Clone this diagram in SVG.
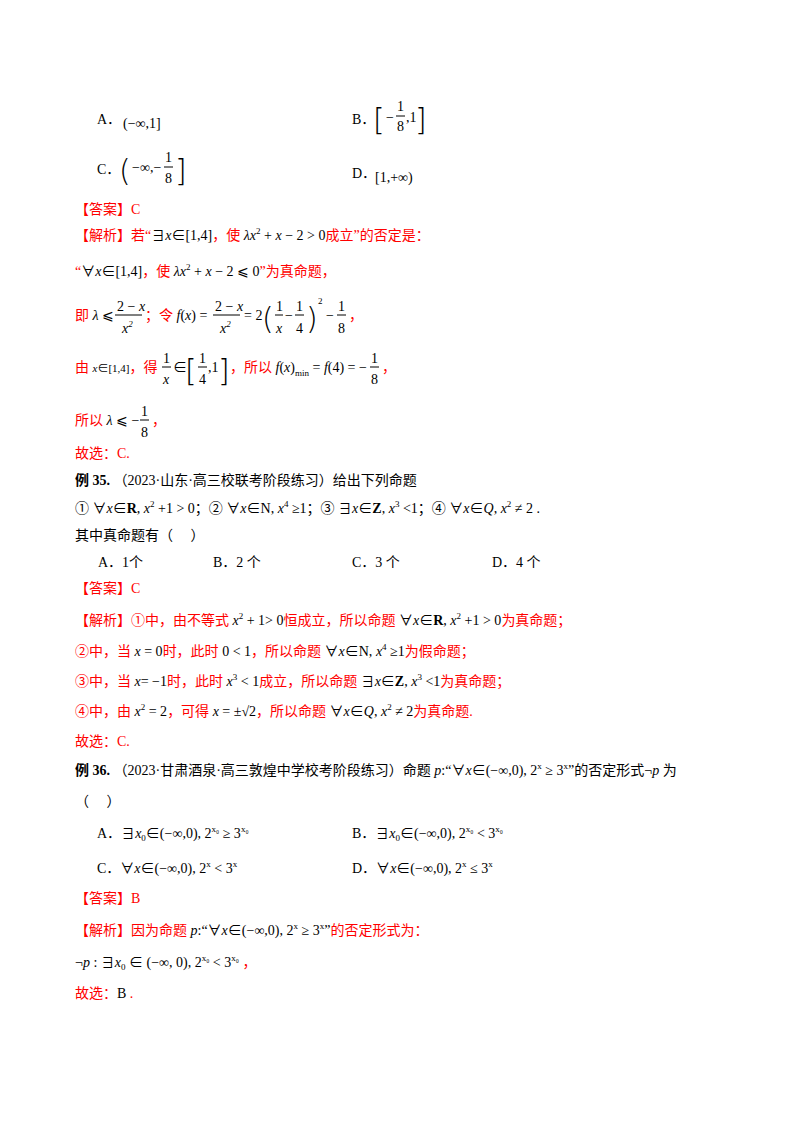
<svg xmlns="http://www.w3.org/2000/svg" width="800" height="1132" viewBox="0 0 800 1132">
<style>
text{font-family:"Liberation Serif","Noto Sans CJK SC",serif;font-size:14px;fill:#000}
.r{fill:#ff0000}
.m{font-style:italic}
.s{font-size:9px}
.b{font-weight:bold}
.br{font-size:30px;font-family:"DejaVu Sans","Liberation Sans",sans-serif;font-weight:200}
line{stroke:#000;stroke-width:1}
</style>
<rect width="800" height="1132" fill="#fff"/>
<g id="q34-options">
<text x="97" y="124">A．</text><text x="123" y="128">(−∞,1]</text>
<text x="352" y="124">B．</text><text x="373" y="130" class="br">[</text><text x="386" y="122">−</text>
<text x="397" y="111">1</text><line x1="396" y1="116" x2="405" y2="116"/><text x="397" y="131">8</text><text x="406" y="122">,1</text><text x="415" y="130" class="br">]</text>
<text x="97" y="174">C．</text><text x="119" y="181" class="br">(</text><text x="132" y="172">−∞,−</text>
<text x="165" y="162">1</text><line x1="164" y1="167" x2="173" y2="167"/><text x="165" y="183">8</text><text x="175" y="181" class="br">]</text>
<text x="352" y="178">D．</text><text x="375" y="182">[1,+∞)</text>
</g>
<g id="q34-answer">
<text x="75" y="214" class="r">【答案】C</text>
<text x="75" y="240" class="r">【解析】若“<tspan fill="#000">∃</tspan><tspan fill="#000" class="m">x</tspan><tspan fill="#000">∈[1,4]</tspan>，使 <tspan fill="#000" class="m">λx</tspan><tspan fill="#000" class="s" dy="-6">2</tspan><tspan fill="#000" dy="6"> + </tspan><tspan fill="#000" class="m">x</tspan><tspan fill="#000"> − 2 &gt; 0</tspan>成立”的否定是：</text>
<text x="75" y="276" class="r">“<tspan fill="#000">∀</tspan><tspan fill="#000" class="m">x</tspan><tspan fill="#000">∈[1,4]</tspan>，使 <tspan fill="#000" class="m">λx</tspan><tspan fill="#000" class="s" dy="-6">2</tspan><tspan fill="#000" dy="6"> + </tspan><tspan fill="#000" class="m">x</tspan><tspan fill="#000"> − 2 ⩽ 0</tspan>”为真命题，</text>
<text x="75" y="320" class="r">即 <tspan fill="#000" class="m">λ</tspan><tspan fill="#000"> ⩽</tspan></text>
<text x="117" y="311">2 − <tspan class="m">x</tspan></text><line x1="115" y1="315" x2="142" y2="315"/><text x="122" y="333" class="m">x<tspan class="s" dy="-6">2</tspan></text>
<text x="145" y="320" class="r">；令 <tspan fill="#000" class="m">f</tspan><tspan fill="#000">(</tspan><tspan fill="#000" class="m">x</tspan><tspan fill="#000">) =</tspan></text>
<text x="215" y="311">2 − <tspan class="m">x</tspan></text><line x1="213" y1="315" x2="240" y2="315"/><text x="220" y="333" class="m">x<tspan class="s" dy="-6">2</tspan></text>
<text x="244" y="320">= 2</text><text x="262" y="329" class="br">(</text>
<text x="276" y="311">1</text><line x1="275" y1="315" x2="283" y2="315"/><text x="276" y="333" class="m">x</text>
<text x="285" y="320">−</text>
<text x="296" y="311">1</text><line x1="295" y1="315" x2="304" y2="315"/><text x="296" y="333">4</text>
<text x="306" y="329" class="br">)</text><text x="318" y="304" class="s">2</text>
<text x="326" y="320">−</text>
<text x="338" y="311">1</text><line x1="337" y1="315" x2="346" y2="315"/><text x="338" y="333">8</text>
<text x="349" y="320" class="r">，</text>
<text x="75" y="372" class="r">由 <tspan fill="#000" class="m" style="font-size:11px">x</tspan><tspan fill="#000" style="font-size:11px">∈[1,4]</tspan>，得</text>
<text x="163" y="363">1</text><line x1="162" y1="367" x2="171" y2="367"/><text x="163" y="384" class="m">x</text>
<text x="173" y="372">∈</text><text x="185" y="381" class="br">[</text>
<text x="199" y="363">1</text><line x1="198" y1="367" x2="207" y2="367"/><text x="199" y="384">4</text>
<text x="208" y="372">,1</text><text x="218" y="381" class="br">]</text>
<text x="230" y="372" class="r">，所以 <tspan fill="#000" class="m">f</tspan><tspan fill="#000">(</tspan><tspan fill="#000" class="m">x</tspan><tspan fill="#000">)</tspan><tspan fill="#000" class="s" dy="4">min</tspan><tspan fill="#000" dy="-4"> = </tspan><tspan fill="#000" class="m">f</tspan><tspan fill="#000">(4) = −</tspan></text>
<text x="371" y="363">1</text><line x1="370" y1="367" x2="379" y2="367"/><text x="371" y="384">8</text>
<text x="382" y="372" class="r">，</text>
<text x="75" y="425" class="r">所以 <tspan fill="#000" class="m">λ</tspan><tspan fill="#000"> ⩽ −</tspan></text>
<text x="141" y="416">1</text><line x1="140" y1="420" x2="149" y2="420"/><text x="141" y="437">8</text>
<text x="152" y="425" class="r">，</text>
<text x="75" y="458" class="r">故选：C.</text>
</g>
<g id="q35">
<text x="75" y="485"><tspan class="b">例 35.</tspan> （2023·山东·高三校联考阶段练习）给出下列命题</text>
<text x="75" y="513">① ∀<tspan class="m">x</tspan>∈<tspan class="b">R</tspan>, <tspan class="m">x</tspan><tspan class="s" dy="-6">2</tspan><tspan dy="6"> +1 &gt; 0</tspan>；② ∀<tspan class="m">x</tspan>∈N, <tspan class="m">x</tspan><tspan class="s" dy="-6">4</tspan><tspan dy="6"> ≥1</tspan>；③ ∃<tspan class="m">x</tspan>∈<tspan class="b">Z</tspan>, <tspan class="m">x</tspan><tspan class="s" dy="-6">3</tspan><tspan dy="6"> &lt;1</tspan>；④ ∀<tspan class="m">x</tspan>∈<tspan class="m">Q</tspan>, <tspan class="m">x</tspan><tspan class="s" dy="-6">2</tspan><tspan dy="6"> ≠ 2 .</tspan></text>
<text x="75" y="540">其中真命题有（　 ）</text>
<text x="98" y="567">A．1个</text><text x="213" y="567">B．2 个</text><text x="352" y="567">C．3 个</text><text x="492" y="567">D．4 个</text>
<text x="75" y="593" class="r">【答案】C</text>
<text x="75" y="625" class="r">【解析】①中，由不等式 <tspan fill="#000" class="m">x</tspan><tspan fill="#000" class="s" dy="-6">2</tspan><tspan fill="#000" dy="6"> + 1&gt; 0</tspan>恒成立，所以命题 <tspan fill="#000">∀</tspan><tspan fill="#000" class="m">x</tspan><tspan fill="#000">∈</tspan><tspan fill="#000" class="b">R</tspan><tspan fill="#000">, </tspan><tspan fill="#000" class="m">x</tspan><tspan fill="#000" class="s" dy="-6">2</tspan><tspan fill="#000" dy="6"> +1 &gt; 0</tspan>为真命题；</text>
<text x="75" y="656" class="r">②中，当 <tspan fill="#000" class="m">x</tspan><tspan fill="#000"> = 0</tspan>时，此时 <tspan fill="#000">0 &lt; 1</tspan>，所以命题 <tspan fill="#000">∀</tspan><tspan fill="#000" class="m">x</tspan><tspan fill="#000">∈N, </tspan><tspan fill="#000" class="m">x</tspan><tspan fill="#000" class="s" dy="-6">4</tspan><tspan fill="#000" dy="6"> ≥1</tspan>为假命题；</text>
<text x="75" y="686" class="r">③中，当 <tspan fill="#000" class="m">x</tspan><tspan fill="#000">= −1</tspan>时，此时 <tspan fill="#000" class="m">x</tspan><tspan fill="#000" class="s" dy="-6">3</tspan><tspan fill="#000" dy="6"> &lt; 1</tspan>成立，所以命题 <tspan fill="#000">∃</tspan><tspan fill="#000" class="m">x</tspan><tspan fill="#000">∈</tspan><tspan fill="#000" class="b">Z</tspan><tspan fill="#000">, </tspan><tspan fill="#000" class="m">x</tspan><tspan fill="#000" class="s" dy="-6">3</tspan><tspan fill="#000" dy="6"> &lt;1</tspan>为真命题；</text>
<text x="75" y="716" class="r">④中，由 <tspan fill="#000" class="m">x</tspan><tspan fill="#000" class="s" dy="-6">2</tspan><tspan fill="#000" dy="6"> = 2</tspan>，可得 <tspan fill="#000" class="m">x</tspan><tspan fill="#000"> = ±√2</tspan>，所以命题 <tspan fill="#000">∀</tspan><tspan fill="#000" class="m">x</tspan><tspan fill="#000">∈</tspan><tspan fill="#000" class="m">Q</tspan><tspan fill="#000">, </tspan><tspan fill="#000" class="m">x</tspan><tspan fill="#000" class="s" dy="-6">2</tspan><tspan fill="#000" dy="6"> ≠ 2</tspan>为真命题.</text>
<text x="75" y="746" class="r">故选：C.</text>
</g>
<g id="q36">
<text x="75" y="775"><tspan class="b">例 36.</tspan> （2023·甘肃酒泉·高三敦煌中学校考阶段练习）命题 <tspan class="m">p</tspan>:“∀<tspan class="m">x</tspan>∈(−∞,0), 2<tspan class="s" dy="-6">x</tspan><tspan dy="6"> ≥ 3</tspan><tspan class="s" dy="-6">x</tspan><tspan dy="6">”的否定形式¬</tspan><tspan class="m">p</tspan> 为</text>
<text x="75" y="806">（　 ）</text>
<text x="97" y="838">A．∃<tspan class="m">x</tspan><tspan class="s" dy="3">0</tspan><tspan dy="-3">∈(−∞,0), 2</tspan><tspan class="s" dy="-6">x₀</tspan><tspan dy="6"> ≥ 3</tspan><tspan class="s" dy="-6">x₀</tspan></text>
<text x="352" y="838">B．∃<tspan class="m">x</tspan><tspan class="s" dy="3">0</tspan><tspan dy="-3">∈(−∞,0), 2</tspan><tspan class="s" dy="-6">x₀</tspan><tspan dy="6"> &lt; 3</tspan><tspan class="s" dy="-6">x₀</tspan></text>
<text x="97" y="873">C．∀<tspan class="m">x</tspan>∈(−∞,0), 2<tspan class="s" dy="-6">x</tspan><tspan dy="6"> &lt; 3</tspan><tspan class="s" dy="-6">x</tspan></text>
<text x="352" y="873">D．∀<tspan class="m">x</tspan>∈(−∞,0), 2<tspan class="s" dy="-6">x</tspan><tspan dy="6"> ≤ 3</tspan><tspan class="s" dy="-6">x</tspan></text>
<text x="75" y="903" class="r">【答案】B</text>
<text x="75" y="935" class="r">【解析】因为命题 <tspan fill="#000" class="m">p</tspan><tspan fill="#000">:“∀</tspan><tspan fill="#000" class="m">x</tspan><tspan fill="#000">∈(−∞,0), 2</tspan><tspan fill="#000" class="s" dy="-6">x</tspan><tspan fill="#000" dy="6"> ≥ 3</tspan><tspan fill="#000" class="s" dy="-6">x</tspan><tspan fill="#000" dy="6">”</tspan>的否定形式为：</text>
<text x="75" y="967">¬<tspan class="m">p</tspan> : ∃<tspan class="m">x</tspan><tspan class="s" dy="3">0</tspan><tspan dy="-3"> ∈ (−∞, 0), 2</tspan><tspan class="s" dy="-6">x₀</tspan><tspan dy="6"> &lt; 3</tspan><tspan class="s" dy="-6">x₀</tspan><tspan dy="6" class="r"> ，</tspan></text>
<text x="75" y="998" class="r">故选：<tspan fill="#000">B</tspan> .</text>
</g>
</svg>
